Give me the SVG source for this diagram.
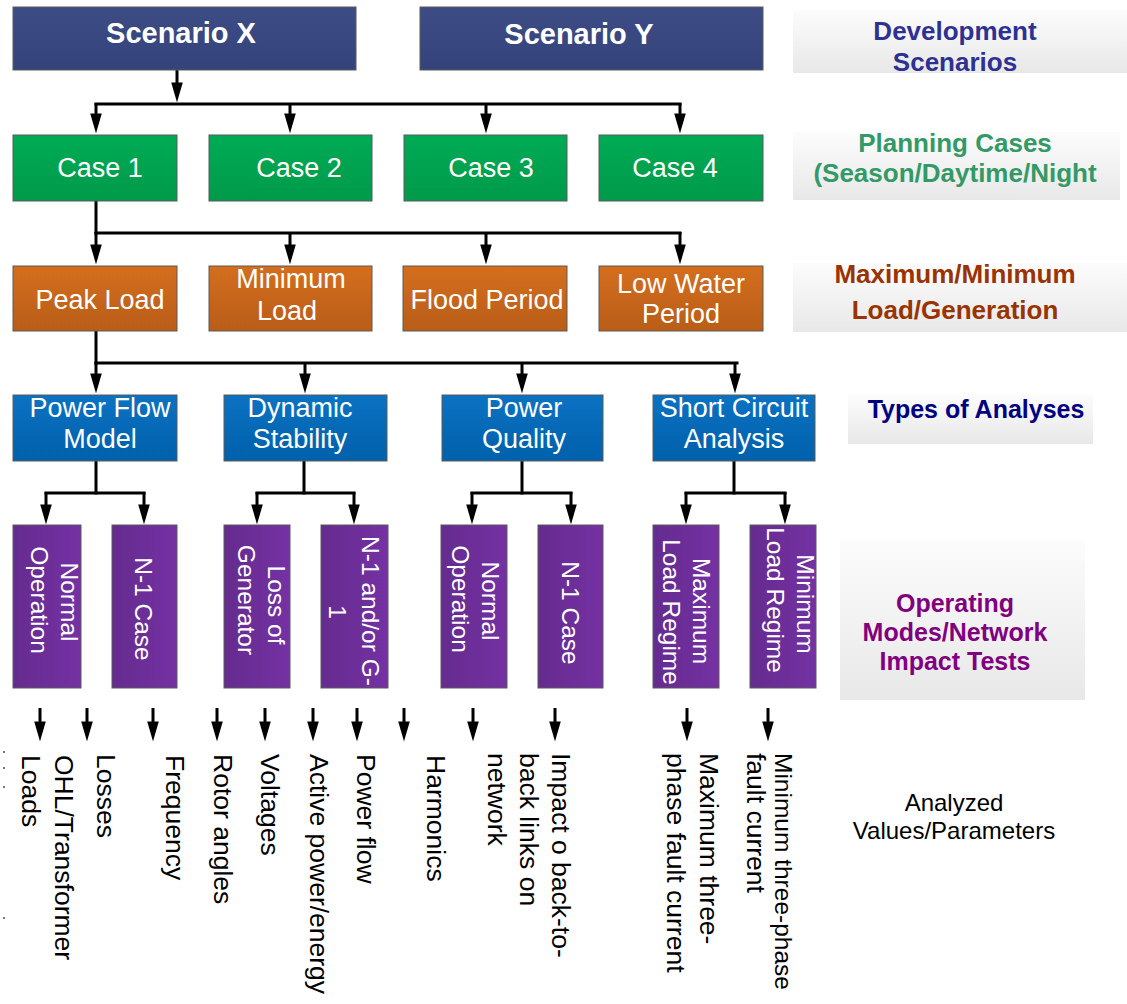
<svg xmlns="http://www.w3.org/2000/svg" width="1127" height="1004" viewBox="0 0 1127 1004">
  <defs>
    <linearGradient id="gBlueDark" x1="0" y1="0" x2="0" y2="1">
      <stop offset="0" stop-color="#3e4c86"/>
      <stop offset="1" stop-color="#34437a"/>
    </linearGradient>
    <linearGradient id="gGreen" x1="0" y1="0" x2="0" y2="1">
      <stop offset="0" stop-color="#00ab55"/>
      <stop offset="1" stop-color="#009a4a"/>
    </linearGradient>
    <linearGradient id="gOrange" x1="0" y1="0" x2="0" y2="1">
      <stop offset="0" stop-color="#d46e1e"/>
      <stop offset="1" stop-color="#b95d18"/>
    </linearGradient>
    <linearGradient id="gBlue" x1="0" y1="0" x2="0" y2="1">
      <stop offset="0" stop-color="#0b72c2"/>
      <stop offset="1" stop-color="#0060ab"/>
    </linearGradient>
    <linearGradient id="gPurple" x1="0" y1="0" x2="1" y2="0">
      <stop offset="0" stop-color="#652b8e"/>
      <stop offset="1" stop-color="#7431a3"/>
    </linearGradient>
    <linearGradient id="gBand" x1="0" y1="0" x2="0" y2="1">
      <stop offset="0" stop-color="#fcfcfc"/>
      <stop offset="1" stop-color="#e8e8e8"/>
    </linearGradient>
    <marker id="arrow" markerUnits="userSpaceOnUse" markerWidth="20" markerHeight="12" viewBox="0 0 19 11" refX="11" refY="5.5" orient="auto">
      <path d="M0,0 L19,5.5 L0,11 z" fill="#000"/>
    </marker>
    <style>
      .box { stroke: #5a5a5a; stroke-width: 1; }
      .scn { fill: url(#gBlueDark); }
      .case { fill: url(#gGreen); }
      .load { fill: url(#gOrange); }
      .ana { fill: url(#gBlue); }
      .mode { fill: url(#gPurple); }
      .band { fill: url(#gBand); }
      .t { font-family: "Liberation Sans", Arial, sans-serif; fill: #fff; font-size: 27px; text-anchor: middle; }
      .tb { font-weight: bold; font-size: 29px; }
      .vt { font-family: "Liberation Sans", Arial, sans-serif; fill: #fff; font-size: 24.5px; text-anchor: middle; }
      .lbl { font-family: "Liberation Sans", Arial, sans-serif; font-weight: bold; font-size: 26px; text-anchor: middle; }
      .lbl.sm { font-size: 25px; }
      .out { font-family: "Liberation Sans", Arial, sans-serif; fill: #000; font-size: 26.5px; }
      .out.sm { font-size: 24.5px; }
      .cap { font-family: "Liberation Sans", Arial, sans-serif; fill: #000; font-size: 24px; text-anchor: middle; }
      .wire { fill: none; stroke: #000; stroke-width: 3; stroke-linecap: square; }
      .drop { fill: none; stroke: #000; stroke-width: 3; marker-end: url(#arrow); }
    </style>
  </defs>

  <rect width="1127" height="1004" fill="#fff"/>

  <!-- level captions on the right -->
  <g id="caption-scenarios">
    <rect class="band" x="793" y="10" width="334" height="63"/>
    <text class="lbl" x="955" y="40" fill="#2e3192">Development</text>
    <text class="lbl" x="955" y="71" fill="#2e3192">Scenarios</text>
  </g>
  <g id="caption-cases">
    <rect class="band" x="793" y="132" width="327" height="68"/>
    <text class="lbl" x="955" y="152" fill="#339966">Planning Cases</text>
    <text class="lbl" x="955" y="182" fill="#339966">(Season/Daytime/Night</text>
  </g>
  <g id="caption-loads">
    <rect class="band" x="793" y="263" width="334" height="69"/>
    <text class="lbl" x="955" y="283" fill="#993300">Maximum/Minimum</text>
    <text class="lbl" x="955" y="319" fill="#993300">Load/Generation</text>
  </g>
  <g id="caption-analyses">
    <rect class="band" x="848" y="395" width="245" height="49"/>
    <text class="lbl sm" x="976" y="418" fill="#000080">Types of Analyses</text>
  </g>
  <g id="caption-modes">
    <rect class="band" x="840" y="540" width="245" height="160"/>
    <text class="lbl sm" x="955" y="612" fill="#800080">Operating</text>
    <text class="lbl sm" x="955" y="641" fill="#800080">Modes/Network</text>
    <text class="lbl sm" x="955" y="670" fill="#800080">Impact Tests</text>
  </g>
  <g id="caption-values">
    <text class="cap" x="954" y="811">Analyzed</text>
    <text class="cap" x="954" y="839">Values/Parameters</text>
  </g>

  <!-- connectors -->
  <g id="connectors">
    <!-- scenario to cases -->
    <line class="drop" x1="177" y1="70" x2="177" y2="94"/>
    <line class="wire" x1="96" y1="104" x2="680" y2="104"/>
    <line class="drop" x1="96" y1="103" x2="96" y2="125"/>
    <line class="drop" x1="290" y1="103" x2="290" y2="125"/>
    <line class="drop" x1="486" y1="103" x2="486" y2="125"/>
    <line class="drop" x1="680" y1="103" x2="680" y2="125"/>
    <!-- case to load levels -->
    <line class="wire" x1="96" y1="201" x2="96" y2="233"/>
    <line class="wire" x1="96" y1="233" x2="680" y2="233"/>
    <line class="drop" x1="96" y1="232" x2="96" y2="256"/>
    <line class="drop" x1="290" y1="232" x2="290" y2="256"/>
    <line class="drop" x1="486" y1="232" x2="486" y2="256"/>
    <line class="drop" x1="680" y1="232" x2="680" y2="256"/>
    <!-- load level to analyses -->
    <line class="wire" x1="96" y1="331" x2="96" y2="363"/>
    <line class="wire" x1="96" y1="363" x2="737" y2="363"/>
    <line class="drop" x1="96" y1="362" x2="96" y2="385"/>
    <line class="drop" x1="305" y1="362" x2="305" y2="385"/>
    <line class="drop" x1="522" y1="362" x2="522" y2="385"/>
    <line class="drop" x1="735" y1="362" x2="735" y2="385"/>
    <!-- analyses to operating modes -->
    <line class="wire" x1="96" y1="461" x2="96" y2="493"/>
    <line class="wire" x1="46" y1="493" x2="144" y2="493"/>
    <line class="drop" x1="46" y1="492" x2="46" y2="516"/>
    <line class="drop" x1="144" y1="492" x2="144" y2="516"/>
    <line class="wire" x1="304" y1="461" x2="304" y2="493"/>
    <line class="wire" x1="257" y1="493" x2="354" y2="493"/>
    <line class="drop" x1="257" y1="492" x2="257" y2="516"/>
    <line class="drop" x1="354" y1="492" x2="354" y2="516"/>
    <line class="wire" x1="522" y1="461" x2="522" y2="493"/>
    <line class="wire" x1="472" y1="493" x2="571" y2="493"/>
    <line class="drop" x1="472" y1="492" x2="472" y2="516"/>
    <line class="drop" x1="571" y1="492" x2="571" y2="516"/>
    <line class="wire" x1="734" y1="461" x2="734" y2="493"/>
    <line class="wire" x1="686" y1="493" x2="785" y2="493"/>
    <line class="drop" x1="686" y1="492" x2="686" y2="516"/>
    <line class="drop" x1="785" y1="492" x2="785" y2="516"/>
    <!-- outputs -->
    <g stroke-width="2">
      <line class="drop" x1="40" y1="708" x2="40" y2="733"/>
      <line class="drop" x1="87" y1="708" x2="87" y2="733"/>
      <line class="drop" x1="153" y1="708" x2="153" y2="733"/>
      <line class="drop" x1="217" y1="708" x2="217" y2="733"/>
      <line class="drop" x1="265" y1="708" x2="265" y2="733"/>
      <line class="drop" x1="313" y1="708" x2="313" y2="733"/>
      <line class="drop" x1="357" y1="708" x2="357" y2="733"/>
      <line class="drop" x1="404" y1="708" x2="404" y2="733"/>
      <line class="drop" x1="473" y1="708" x2="473" y2="733"/>
      <line class="drop" x1="555" y1="708" x2="555" y2="733"/>
      <line class="drop" x1="687" y1="708" x2="687" y2="733"/>
      <line class="drop" x1="768" y1="708" x2="768" y2="733"/>
    </g>
  </g>

  <!-- development scenarios -->
  <g id="scenario-x">
    <rect class="box scn" x="13" y="7" width="343" height="63"/>
    <text class="t tb" x="181" y="43">Scenario X</text>
  </g>
  <g id="scenario-y">
    <rect class="box scn" x="420" y="7" width="343" height="63"/>
    <text class="t tb" x="579" y="44">Scenario Y</text>
  </g>

  <!-- planning cases -->
  <g id="case-1">
    <rect class="box case" x="13" y="135" width="164" height="66"/>
    <text class="t" x="100" y="177">Case 1</text>
  </g>
  <g id="case-2">
    <rect class="box case" x="209" y="135" width="163" height="66"/>
    <text class="t" x="299" y="177">Case 2</text>
  </g>
  <g id="case-3">
    <rect class="box case" x="404" y="135" width="163" height="66"/>
    <text class="t" x="491" y="177">Case 3</text>
  </g>
  <g id="case-4">
    <rect class="box case" x="599" y="135" width="164" height="66"/>
    <text class="t" x="675" y="177">Case 4</text>
  </g>

  <!-- load / generation levels -->
  <g id="peak-load">
    <rect class="box load" x="13" y="266" width="164" height="65"/>
    <text class="t" x="100" y="309">Peak Load</text>
  </g>
  <g id="minimum-load">
    <rect class="box load" x="209" y="266" width="163" height="65"/>
    <text class="t" x="291" y="288">Minimum</text>
    <text class="t" x="287" y="320">Load</text>
  </g>
  <g id="flood-period">
    <rect class="box load" x="403" y="266" width="164" height="65"/>
    <text class="t" x="487" y="309">Flood Period</text>
  </g>
  <g id="low-water-period">
    <rect class="box load" x="599" y="266" width="164" height="65"/>
    <text class="t" x="681" y="293">Low Water</text>
    <text class="t" x="681" y="323">Period</text>
  </g>

  <!-- types of analyses -->
  <g id="power-flow-model">
    <rect class="box ana" x="13" y="395" width="164" height="66"/>
    <text class="t" x="100" y="417">Power Flow</text>
    <text class="t" x="100" y="448">Model</text>
  </g>
  <g id="dynamic-stability">
    <rect class="box ana" x="224" y="395" width="163" height="66"/>
    <text class="t" x="300" y="417">Dynamic</text>
    <text class="t" x="300" y="448">Stability</text>
  </g>
  <g id="power-quality">
    <rect class="box ana" x="442" y="395" width="161" height="66"/>
    <text class="t" x="524" y="417">Power</text>
    <text class="t" x="524" y="448">Quality</text>
  </g>
  <g id="short-circuit-analysis">
    <rect class="box ana" x="653" y="395" width="162" height="66"/>
    <text class="t" x="734" y="417">Short Circuit</text>
    <text class="t" x="734" y="448">Analysis</text>
  </g>

  <!-- operating modes / network impact tests (vertical labels) -->
  <g id="pf-normal-operation">
    <rect class="box mode" x="13" y="525" width="68" height="163"/>
    <text class="vt" transform="translate(61,602) rotate(90)">Normal</text>
    <text class="vt" transform="translate(31,600) rotate(90)">Operation</text>
  </g>
  <g id="pf-n-1-case">
    <rect class="box mode" x="112" y="525" width="65" height="163"/>
    <text class="vt" transform="translate(135,609) rotate(90)">N-1 Case</text>
  </g>
  <g id="ds-loss-of-generator">
    <rect class="box mode" x="224" y="525" width="66" height="163"/>
    <text class="vt" transform="translate(268,605) rotate(90)">Loss of</text>
    <text class="vt" transform="translate(238,600) rotate(90)">Generator</text>
  </g>
  <g id="ds-n-1-g-1">
    <rect class="box mode" x="321" y="525" width="67" height="163"/>
    <text class="vt" transform="translate(362,611) rotate(90)">N-1 and/or G-</text>
    <text class="vt" transform="translate(329,612) rotate(90)">1</text>
  </g>
  <g id="pq-normal-operation">
    <rect class="box mode" x="441" y="525" width="66" height="163"/>
    <text class="vt" transform="translate(482,601) rotate(90)">Normal</text>
    <text class="vt" transform="translate(452,599) rotate(90)">Operation</text>
  </g>
  <g id="pq-n-1-case">
    <rect class="box mode" x="538" y="525" width="65" height="163"/>
    <text class="vt" transform="translate(562,613) rotate(90)">N-1 Case</text>
  </g>
  <g id="sc-maximum-load-regime">
    <rect class="box mode" x="653" y="525" width="66" height="163"/>
    <text class="vt" transform="translate(693,611) rotate(90)">Maximum</text>
    <text class="vt" transform="translate(663,612) rotate(90)">Load Regime</text>
  </g>
  <g id="sc-minimum-load-regime">
    <rect class="box mode" x="750" y="525" width="66" height="163"/>
    <text class="vt" transform="translate(797,604) rotate(90)">Minimum</text>
    <text class="vt" transform="translate(767,600) rotate(90)">Load Regime</text>
  </g>

  <!-- analyzed values (vertical) -->
  <g id="values">
    <text class="out" transform="translate(22,755) rotate(90)">Loads</text>
    <text class="out" transform="translate(55,755) rotate(90)">OHL/Transformer</text>
    <text class="out" transform="translate(97,754) rotate(90)">Losses</text>
    <text class="out" transform="translate(166,755) rotate(90)">Frequency</text>
    <text class="out" transform="translate(214,754) rotate(90)">Rotor angles</text>
    <text class="out" transform="translate(261,754) rotate(90)">Voltages</text>
    <text class="out" transform="translate(310,754) rotate(90)">Active power/energy</text>
    <text class="out" transform="translate(357,754) rotate(90)">Power flow</text>
    <text class="out" transform="translate(427,755) rotate(90)">Harmonics</text>
    <text class="out" transform="translate(552,753) rotate(90)">Impact o back-to-</text>
    <text class="out" transform="translate(520,753) rotate(90)">back links on</text>
    <text class="out" transform="translate(488,753) rotate(90)">network</text>
    <text class="out" transform="translate(700,753) rotate(90)">Maximum three-</text>
    <text class="out" transform="translate(667,753) rotate(90)">phase fault current</text>
    <text class="out sm" transform="translate(775,753) rotate(90)">Minimum three-phase</text>
    <text class="out" transform="translate(747,753) rotate(90)">fault current</text>
  </g>

  <!-- stray specks at the left margin -->
  <g fill="#777">
    <rect x="3" y="751" width="2" height="2"/>
    <rect x="3" y="767" width="2" height="2"/>
    <rect x="3" y="786" width="2" height="2"/>
    <rect x="3" y="917" width="2" height="2"/>
  </g>
</svg>
